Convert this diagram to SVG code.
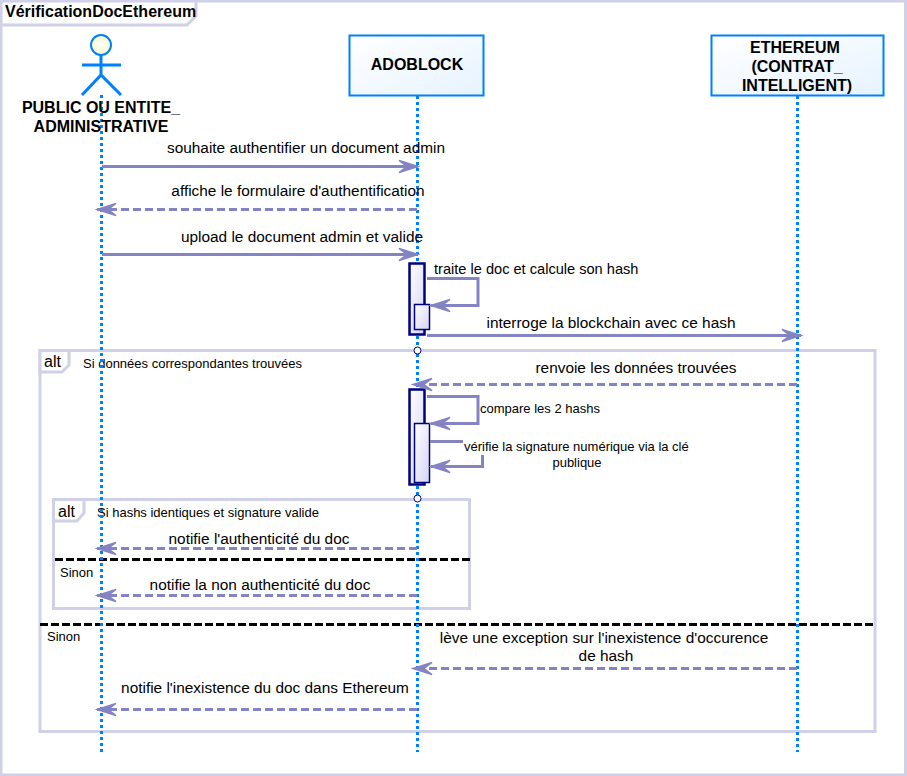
<svg xmlns="http://www.w3.org/2000/svg" width="907" height="776" viewBox="0 0 907 776">
<defs>
<linearGradient id="boxfill" x1="0" y1="0" x2="1" y2="1"><stop offset="0" stop-color="#ffffff"/><stop offset="1" stop-color="#e6f3ff"/></linearGradient>
<linearGradient id="actfill" x1="0" y1="0" x2="1" y2="1"><stop offset="0" stop-color="#ffffff"/><stop offset="1" stop-color="#d4d4f4"/></linearGradient>
<radialGradient id="head"><stop offset="0" stop-color="#ffffff"/><stop offset="1" stop-color="#fbf6c4"/></radialGradient>
<marker id="arrow" markerUnits="userSpaceOnUse" markerWidth="26" markerHeight="18" refX="22" refY="9" orient="auto">
<path d="M3,3 L22,9 L3,15 L11,9 Z" fill="#8484c4" stroke="#8484c4" stroke-width="1.5"/>
</marker>
<style>
text{font-family:"Liberation Sans",Arial,sans-serif;fill:#000}
.msg{font-size:15.4px;text-anchor:middle}
.small{font-size:13px}
.cap{font-size:16px;font-weight:bold;text-anchor:middle}
.frame{fill:none;stroke:#d0d0e8;stroke-width:3}
.tab{fill:#fff;stroke:#d0d0e8;stroke-width:3}
.life{fill:none;stroke:#0080ff;stroke-width:3;stroke-dasharray:3 3}
.box{fill:url(#boxfill);stroke:#0080ff;stroke-width:2}
.fig{fill:none;stroke:#0080ff;stroke-width:3}
.solid{fill:none;stroke:#8484c4;stroke-width:3;marker-end:url(#arrow)}
.dash{fill:none;stroke:#8484c4;stroke-width:3;stroke-dasharray:8 4;marker-end:url(#arrow)}
.plain{fill:none;stroke:#8484c4;stroke-width:3}
.act{fill:url(#actfill);stroke:#000080;stroke-width:2.5}
.act2{fill:url(#actfill);stroke:#000080;stroke-width:1.5}
.sep{stroke:#000;stroke-width:3;stroke-dasharray:8 3;fill:none}
.end{fill:#fff;stroke:#000080;stroke-width:1}
</style>
</defs>

<g id="frame">
<rect class="frame" x="1" y="1" width="904.5" height="774"/>
<path class="tab" d="M1,1 H196 V16 L187,25 H1 Z"/>
<text x="5" y="17" font-size="16" font-weight="bold">VérificationDocEthereum</text>
</g>

<g id="fragments">
<g id="alt-outer">
<rect class="frame" x="40" y="350.500" width="835" height="381"/>
<path class="tab" d="M40,350.500 H69 V365 L62,372 H40 Z"/>
<text x="44" y="367" font-size="16">alt</text>
<text class="small" x="83" y="368">Si données correspondantes trouvées</text>
<line class="sep" x1="40" y1="624.500" x2="875" y2="624.500"/>
<text class="small" x="47" y="641">Sinon</text>
</g>
<g id="alt-inner">
<rect class="frame" x="53.500" y="499.500" width="416" height="109"/>
<path class="tab" d="M53.500,499.500 H84 V513 L77,521 H53.500 Z"/>
<text x="58" y="517" font-size="16">alt</text>
<text class="small" x="97" y="517">Si hashs identiques et signature valide</text>
<line class="sep" x1="55" y1="559.500" x2="470" y2="559.500"/>
<text class="small" x="60" y="577">Sinon</text>
</g>
</g>

<g id="lifelines">
<line class="life" x1="101.500" y1="95" x2="101.500" y2="752"/>
<line class="life" x1="417.500" y1="96" x2="417.500" y2="752"/>
<line class="life" x1="797.500" y1="96" x2="797.500" y2="752"/>
</g>

<g id="node-public">
<circle cx="101" cy="45" r="10" fill="url(#head)" stroke="#0080ff" stroke-width="2"/>
<path class="fig" d="M101,55 V75 M82,65 H121 M82,95 L101,75 L121,95"/>
<text class="cap" x="101" y="113">PUBLIC OU ENTITE_</text>
<text class="cap" x="101" y="132">ADMINISTRATIVE</text>
</g>
<g id="node-adoblock">
<rect class="box" x="349.500" y="35.500" width="134" height="60"/>
<text class="cap" x="417" y="70">ADOBLOCK</text>
</g>
<g id="node-ethereum">
<rect class="box" x="711.500" y="35.500" width="172" height="60"/>
<text class="cap" x="795" y="53">ETHEREUM</text>
<text class="cap" x="797" y="72">(CONTRAT_</text>
<text class="cap" x="797" y="91">INTELLIGENT)</text>
</g>

<g id="activations">
<rect class="act" x="409.500" y="263.500" width="15" height="71"/>
<rect class="act2" x="414.500" y="304.500" width="15" height="25"/>
<rect class="act" x="409.500" y="389.500" width="15" height="95"/>
<rect class="act2" x="414.500" y="423.500" width="15" height="59"/>
<circle class="end" cx="417.500" cy="350.500" r="3.500"/>
<circle class="end" cx="417.500" cy="498.500" r="3.500"/>
</g>

<g id="connectors">
<line class="solid" x1="102" y1="166.500" x2="418" y2="166.500"/>
<line class="dash" x1="417" y1="209.500" x2="97" y2="209.500"/>
<line class="solid" x1="102" y1="254.500" x2="418" y2="254.500"/>
<path class="solid" d="M427,278.500 H478 V305.500 H431"/>
<line class="solid" x1="427" y1="335.500" x2="801" y2="335.500"/>
<line class="dash" x1="797" y1="384.500" x2="413" y2="384.500"/>
<path class="solid" d="M427,396.500 H478 V423.500 H431"/>
<path class="plain" d="M430,441.500 H463"/>
<path class="solid" d="M482.500,455 V466.500 H431"/>
<line class="dash" x1="417" y1="548.500" x2="97" y2="548.500"/>
<line class="dash" x1="417" y1="595.500" x2="97" y2="595.500"/>
<line class="dash" x1="797" y1="668.500" x2="413" y2="668.500"/>
<line class="dash" x1="417" y1="709.500" x2="97" y2="709.500"/>
</g>

<g id="labels">
<text class="msg" x="306" y="152.500">souhaite authentifier un document admin</text>
<text class="msg" x="298" y="195.500">affiche le formulaire d'authentification</text>
<text class="msg" x="302" y="241.500">upload le document admin et valide</text>
<text x="434" y="274" font-size="14.6">traite le doc et calcule son hash</text>
<text class="msg" x="611" y="328">interroge la blockchain avec ce hash</text>
<text class="msg" x="636" y="373">renvoie les données trouvées</text>
<text class="small" x="480" y="413">compare les 2 hashs</text>
<text class="small" x="464" y="451">vérifie la signature numérique via la clé</text>
<text class="small" x="577" y="467" text-anchor="middle">publique</text>
<text class="msg" x="259" y="544">notifie l'authenticité du doc</text>
<text class="msg" x="260" y="590">notifie la non authenticité du doc</text>
<text class="msg" x="604" y="643">lève une exception sur l'inexistence d'occurence</text>
<text class="msg" x="606" y="661">de hash</text>
<text class="msg" x="265" y="693">notifie l'inexistence du doc dans Ethereum</text>
</g>
</svg>
